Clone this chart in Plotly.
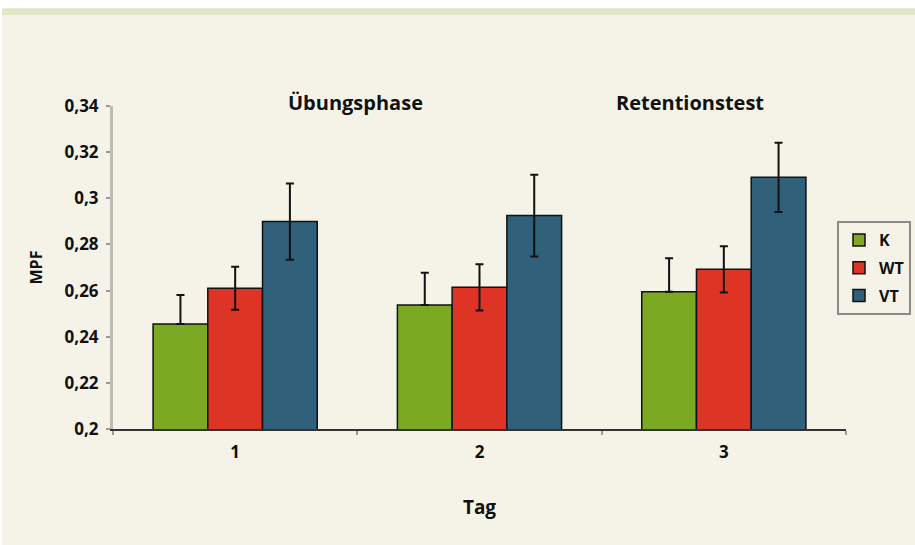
import plotly.graph_objects as go

categories = ["1", "2", "3"]
series_names = ["K", "WT", "VT"]
k_vals = [0.2455, 0.2537, 0.2595]
wt_vals = [0.2610, 0.2614, 0.2692]
vt_vals = [0.2899, 0.2925, 0.3091]
k_err_plus = [0.0126, 0.0140, 0.0145]
k_err_minus = [0.0, 0.0, 0.0]
wt_err = [0.0093, 0.0100, 0.0100]
vt_err = [0.0165, 0.0177, 0.0150]
y_tickvals = [0.2, 0.22, 0.24, 0.26, 0.28, 0.3, 0.32, 0.34]
y_ticktext = ["0,2", "0,22", "0,24", "0,26", "0,28", "0,3", "0,32", "0,34"]
phase_labels = ["Übungsphase", "Retentionstest"]

colors = ["#7BAA22", "#DE3426", "#30607A"]
FONT = "Open Sans"
BG = "#F5F3E8"
W, H = 915, 545
L, R, T, B = 113, 2, 106, 116
PW, PH = W - L - R, H - T - B
AXIS_RIGHT = 846  # pixel x where x-axis ends

fig = go.Figure()
vals = [k_vals, wt_vals, vt_vals]
errs = [
    dict(type="data", symmetric=False, array=k_err_plus, arrayminus=k_err_minus),
    dict(type="data", array=wt_err),
    dict(type="data", array=vt_err),
]
for i in range(3):
    e = errs[i]
    e.update(color="#111", thickness=2, width=4)
    fig.add_trace(go.Bar(
        x=categories, y=vals[i], name=series_names[i], legendgroup=series_names[i],
        marker=dict(color=colors[i], line=dict(color="#111", width=1.5)),
        error_y=e,
    ))


def fx(px):
    return (px - L) / PW


def fy(py):
    return (H - B - py) / PH


fig.update_layout(
    width=W, height=H,
    margin=dict(l=L, r=R, t=T, b=B),
    paper_bgcolor=BG, plot_bgcolor=BG,
    barmode="group", bargap=0.328, bargroupgap=0,
    font=dict(family=FONT, size=17, color="#111"),
    showlegend=True,
    legend=dict(
        x=fx(911), y=fy(221), xanchor="right", yanchor="top",
        bgcolor=BG, bordercolor="#8a8a8a", borderwidth=2,
        font=dict(family=FONT, size=16, color="#111", weight="bold"),
        tracegroupgap=4, itemwidth=30,
    ),
    xaxis=dict(
        type="category", domain=[0, fx(AXIS_RIGHT)],
        showline=True, linecolor="#333", linewidth=2,
        ticks="outside", tickson="boundaries", ticklen=4, tickcolor="#999", tickwidth=2,
        ticklabelstandoff=7,
        tickfont=dict(family=FONT, size=17, weight="bold", color="#111"),
        title=dict(text="Tag", font=dict(family=FONT, size=19, weight="bold", color="#111"), standoff=38),
        showgrid=False,
    ),
    yaxis=dict(
        range=[0.2, 0.34],
        tickvals=y_tickvals, ticktext=y_ticktext,
        showline=True, linecolor="#bdbdb6", linewidth=3,
        ticks="outside", ticklen=4, tickcolor="#999", tickwidth=2,
        ticklabelstandoff=4,
        tickfont=dict(family=FONT, size=17, weight="bold", color="#111"),
        title=dict(text="MPF", font=dict(family=FONT, size=16, weight="bold", color="#111"), standoff=18),
        showgrid=False, zeroline=False,
    ),
)

fig.add_annotation(x=fx(355), y=fy(102), xref="paper", yref="paper", text=phase_labels[0],
                   showarrow=False, xanchor="center", yanchor="middle",
                   font=dict(family=FONT, size=20, weight="bold", color="#111"))
fig.add_annotation(x=fx(690), y=fy(102), xref="paper", yref="paper", text=phase_labels[1],
                   showarrow=False, xanchor="center", yanchor="middle",
                   font=dict(family=FONT, size=20, weight="bold", color="#111"))


# decorative frame: white top/left strips and green band
def px_rect(x0, y0, x1, y1, color):
    fig.add_shape(type="rect", xref="paper", yref="paper",
                  x0=fx(x0), x1=fx(x1), y0=fy(y1), y1=fy(y0),
                  fillcolor=color, line_width=0, layer="below")


px_rect(0, 0, W, 8, "white")
px_rect(0, 8.5, W, 15, "#E2E5C8")
px_rect(0, 0, 2, H, "white")

fig.write_html("out.html", config={"displayModeBar": False},
               post_script="document.body.style.margin='0px';")
